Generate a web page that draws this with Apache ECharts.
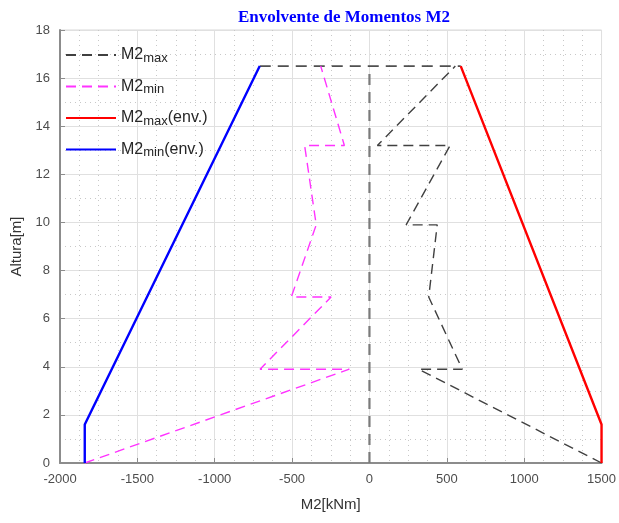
<!DOCTYPE html>
<html>
<head>
<meta charset="utf-8">
<script src="https://cdn.jsdelivr.net/npm/echarts@6/dist/echarts.min.js"></script>
<style>html,body{margin:0;padding:0;background:#fff}#c{width:619px;height:523px}</style>
</head>
<body>
<div id="c"></div>
<script>
// ---- data ----
var m2max_x = [1500, 318, 600, 383, 393, 438, 237, 521, 51, 555];
var m2max_y = [0, 3.9, 3.9, 6.9, 6.9, 9.9, 9.9, 13.2, 13.2, 16.5];
var m2min_x = [-1840, -130, -707, -248, -505, -344, -344, -419, -162, -315];
var m2min_y = [0, 3.9, 3.9, 6.9, 6.9, 9.9, 9.9, 13.2, 13.2, 16.5];
var envmax_x = [1500, 1500, 590];
var envmax_y = [0, 1.6, 16.5];
var envmin_x = [-1840, -1840, -709];
var envmin_y = [0, 1.6, 16.5];
var column_x = [0, 0];
var column_y = [0, 16.5];
var beam_x = [-709, 590];
var beam_y = [16.5, 16.5];
var xTicks = [-2000, -1500, -1000, -500, 0, 500, 1000, 1500];
var yTicks = [0, 2, 4, 6, 8, 10, 12, 14, 16, 18];

function pairs(xs, ys) { return xs.map(function (x, i) { return [x, ys[i]]; }); }

var FONT = 'Liberation Sans';
var chart = echarts.init(document.getElementById('c'));
var legendLabels = {
  'M2max': '{a|M2}{s|max}',
  'M2min': '{a|M2}{s|min}',
  'M2maxenv': '{a|M2}{s|max}{a|(env.)}',
  'M2minenv': '{a|M2}{s|min}{a|(env.)}'
};
chart.setOption({
  animation: false,
  backgroundColor: '#fff',
  title: {
    text: 'Envolvente de Momentos M2',
    left: 339, top: 4, textAlign: 'center',
    textStyle: { fontFamily: 'Liberation Serif', fontWeight: 'bold', fontSize: 17, color: '#0000ff' }
  },
  grid: { left: 60, right: 5, top: 30, bottom: 60, show: true, borderColor: '#d9d9d9', borderWidth: 1 },
  legend: {
    orient: 'vertical', left: 60, top: 42,
    itemWidth: 50, itemHeight: 14, itemGap: 14,
    itemStyle: { opacity: 0 },
    data: ['M2max', 'M2min', 'M2maxenv', 'M2minenv'],
    formatter: function (n) { return legendLabels[n]; },
    textStyle: {
      color: '#262626', fontFamily: FONT,
      rich: {
        a: { fontSize: 16, fontFamily: FONT, color: '#262626', lineHeight: 19, verticalAlign: 'middle' },
        s: { fontSize: 13, fontFamily: FONT, color: '#262626', lineHeight: 13, verticalAlign: 'bottom' }
      }
    }
  },
  xAxis: {
    type: 'value', min: -2000, max: 1500, interval: 500,
    name: 'M2[kNm]', nameLocation: 'middle', nameGap: 34,
    nameTextStyle: { fontFamily: FONT, fontSize: 15, color: '#333' },
    axisLine: { show: true, onZero: false, lineStyle: { color: '#8c8c8c', width: 2 } },
    axisTick: { show: true, inside: true, length: 5, lineStyle: { color: '#8c8c8c' } },
    axisLabel: { fontFamily: FONT, fontSize: 13, color: '#4d4d4d', margin: 10,
      formatter: function (v) { return String(v); } },
    splitLine: { show: true, lineStyle: { color: '#e0e0e0', width: 1 } },
    minorTick: { show: false, splitNumber: 4 },
    minorSplitLine: { show: true, lineStyle: { color: '#c8c8c8', type: [1, 4], width: 1 } }
  },
  yAxis: {
    type: 'value', min: 0, max: 18, interval: 2,
    name: 'Altura[m]', nameLocation: 'middle', nameGap: 31,
    nameTextStyle: { fontFamily: FONT, fontSize: 15, color: '#333' },
    axisLine: { show: true, onZero: false, lineStyle: { color: '#8c8c8c', width: 2 } },
    axisTick: { show: true, inside: true, length: 5, lineStyle: { color: '#8c8c8c' } },
    axisLabel: { fontFamily: FONT, fontSize: 13, color: '#4d4d4d', margin: 10,
      formatter: function (v) { return String(v); } },
    splitLine: { show: true, lineStyle: { color: '#e0e0e0', width: 1 } },
    minorTick: { show: false, splitNumber: 2 },
    minorSplitLine: { show: true, lineStyle: { color: '#c8c8c8', type: [1, 4], width: 1 } }
  },
  series: [
    { name: 'column', type: 'line', symbol: 'none', data: pairs(column_x, column_y),
      lineStyle: { color: '#7a7a7a', width: 2.2, type: [11, 7] }, z: 3 },
    { name: 'beam', type: 'line', symbol: 'none', data: pairs(beam_x, beam_y),
      lineStyle: { color: '#505050', width: 1.6, type: [11, 7] }, z: 3 },
    { name: 'M2max', type: 'line', symbol: 'none', data: pairs(m2max_x, m2max_y),
      itemStyle: { color: '#404040' },
      lineStyle: { color: '#404040', width: 1.4, type: [10, 6] }, z: 4 },
    { name: 'M2min', type: 'line', symbol: 'none', data: pairs(m2min_x, m2min_y),
      itemStyle: { color: '#ff33ff' },
      lineStyle: { color: '#ff33ff', width: 1.4, type: [10, 6] }, z: 4 },
    { name: 'M2maxenv', type: 'line', symbol: 'none', data: pairs(envmax_x, envmax_y),
      itemStyle: { color: '#ff0000' },
      lineStyle: { color: '#ff0000', width: 2.4 }, z: 5 },
    { name: 'M2minenv', type: 'line', symbol: 'none', data: pairs(envmin_x, envmin_y),
      itemStyle: { color: '#0000ff' },
      lineStyle: { color: '#0000ff', width: 2.4 }, z: 5 }
  ]
});
</script>
</body>
</html>
